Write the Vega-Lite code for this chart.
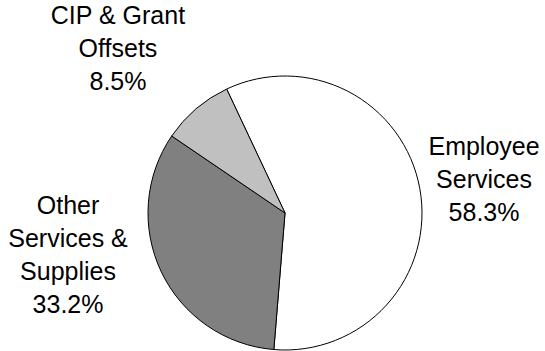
{
  "$schema": "https://vega.github.io/schema/vega-lite/v6.json",
  "width": 520,
  "height": 276,
  "padding": {"left": 25, "top": 75, "right": 0, "bottom": 0},
  "autosize": {"type": "none"},
  "background": "white",
  "config": {"view": {"stroke": null}},
  "data": {
    "values": [
      {"category": "Employee Services", "label": "Employee\nServices\n58.3%", "value": 58.3, "order": 1},
      {"category": "Other Services & Supplies", "label": "Other\nServices &\nSupplies\n33.2%", "value": 33.2, "order": 2},
      {"category": "CIP & Grant Offsets", "label": "CIP & Grant\nOffsets\n8.5%", "value": 8.5, "order": 3}
    ]
  },
  "layer": [
    {
      "mark": {"type": "arc", "outerRadius": 137, "stroke": "black", "strokeWidth": 1},
      "encoding": {
        "theta": {"field": "value", "type": "quantitative", "stack": true, "scale": {"range": [-0.44, 5.8432]}},
        "order": {"field": "order", "type": "quantitative"},
        "color": {
          "field": "category", "type": "nominal", "legend": null,
          "scale": {"domain": ["Employee Services", "Other Services & Supplies", "CIP & Grant Offsets"], "range": ["#ffffff", "#808080", "#c0c0c0"]}
        }
      }
    },
    {
      "transform": [{"filter": "datum.order == 1"}],
      "mark": {"type": "text", "theta": 1.2505, "radius": 209.7, "font": "Liberation Sans", "fontSize": 25, "lineHeight": 33, "lineBreak": "\n", "align": "center", "baseline": "middle", "color": "black"},
      "encoding": {"text": {"field": "label"}}
    },
    {
      "transform": [{"filter": "datum.order == 2"}],
      "mark": {"type": "text", "theta": 4.745, "radius": 217.1, "font": "Liberation Sans", "fontSize": 25, "lineHeight": 33, "lineBreak": "\n", "align": "center", "baseline": "middle", "color": "black"},
      "encoding": {"text": {"field": "label"}}
    },
    {
      "transform": [{"filter": "datum.order == 3"}],
      "mark": {"type": "text", "theta": 5.58, "radius": 258.3, "font": "Liberation Sans", "fontSize": 25, "lineHeight": 33, "lineBreak": "\n", "align": "center", "baseline": "middle", "color": "black"},
      "encoding": {"text": {"field": "label"}}
    }
  ]
}
